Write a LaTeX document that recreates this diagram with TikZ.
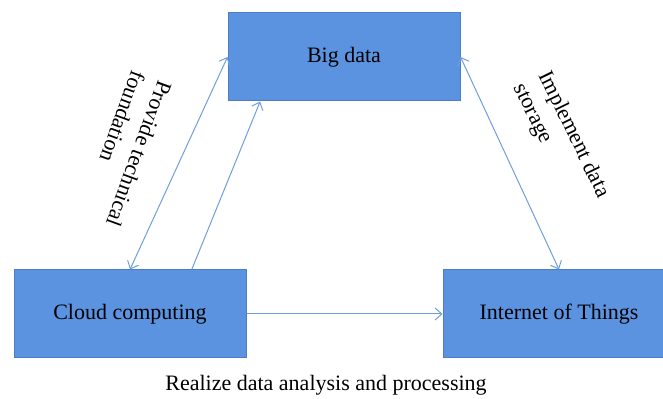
\documentclass[tikz,border=0pt]{standalone}
\usepackage{fontspec}
\setmainfont{Liberation Serif}
\usepackage{tikz}
\usetikzlibrary{arrows.meta,positioning,calc}
\definecolor{tcBlue}{HTML}{5B93E0}
\definecolor{tcEdge}{HTML}{4A7DC6}
\definecolor{tcLine}{HTML}{6F9FDB}

\begin{document}
\begin{tikzpicture}[
  x=0.75pt,y=0.75pt,
  font=\fontsize{16.5}{21}\selectfont,
  box/.style={draw=tcEdge,fill=tcBlue,line width=0.75pt,minimum width=174pt,
    minimum height=66pt,inner sep=0pt,align=center},
  note/.style={align=left,inner sep=0pt},
  arrow/.style={-{Straight Barb[length=5pt,width=9pt]},line width=0.75pt,draw=tcLine},
  twoway/.style={arrow,{Straight Barb[length=5pt,width=9pt]}-{Straight Barb[length=5pt,width=9pt]}}
]
\useasboundingbox (0,0) rectangle (663,399);
\clip (0,0) rectangle (663,399);
\node[box] (cloud) at (130,85) {Cloud computing};
\node[box,right=147pt of cloud] (iot) {Internet of Things};
\node[box] (bigdata) at (344,342) {Big data};
\node (caption) at (326,14) {Realize data analysis and processing};
\node[note,rotate=-110] (techlabel) at (126,250) {Provide technical\\foundation};
\node[note,rotate=-64] (storelabel) at (561,258) {Implement data\\storage};
\draw[twoway] (bigdata.west)--(cloud.north);
\draw[arrow] ($(cloud.north)!0.53!(cloud.north east)$)--($(bigdata.south)!0.72!(bigdata.south west)$);
\draw[twoway] (bigdata.east)--(iot.north);
\draw[arrow] (cloud.east)--(iot.west);
\end{tikzpicture}
\end{document}
